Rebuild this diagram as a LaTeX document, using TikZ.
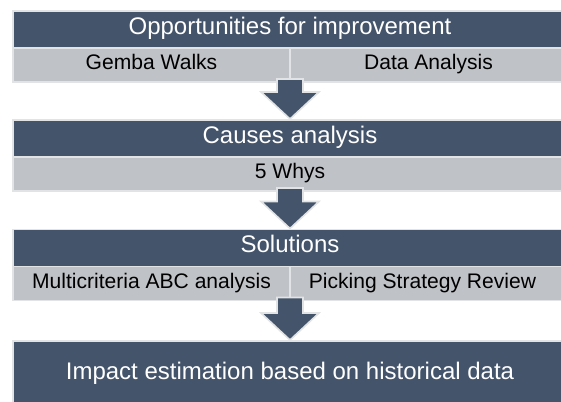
\documentclass[tikz,border=0pt]{standalone}
\usepackage{fontspec}
\setmainfont{Liberation Sans}
\usetikzlibrary{calc, positioning}

\definecolor{slate}{HTML}{44546A}
\definecolor{bar}{HTML}{BFC2C6}
\definecolor{edge}{HTML}{E2E3E5}

% block arrow from the bottom of one stage down to the next heading
\newcommand{\stagearrow}[2]{%
  \filldraw[fill=slate, draw=edge, line width=1.2pt, line join=miter]
    ($(#1)+(-13,-3)$) -- ($(#1)+(13,-3)$)
    -- ($(#2.north)+(13,-28)$) -- ($(#2.north)+(29,-28)$)
    -- ($(#2.north)+(0,-1)$)
    -- ($(#2.north)+(-29,-28)$) -- ($(#2.north)+(-13,-28)$) -- cycle;
}

\begin{document}
\begin{tikzpicture}[x=0.75pt, y=-0.75pt,
head/.style  = {fill=slate, draw=edge, line width=1pt, text=white,
                minimum width=415.5pt, minimum height=27.75pt,
                inner sep=0pt, outer sep=0pt,
                text height=0.716em, text depth=0pt,
                font=\fontsize{18}{21.6}\selectfont},
cell/.style  = {fill=bar, draw=edge, line width=1pt, text=black,
                minimum width=207.75pt, minimum height=25.5pt,
                inner sep=0pt, outer sep=0pt,
                text height=0.716em, text depth=0pt,
                font=\fontsize{15.8}{19}\selectfont},
wide/.style  = {cell, minimum width=415.5pt}
                    ]
  \useasboundingbox (0,0) rectangle (561,401);
  \clip (0,0) rectangle (561,401);

  % stage 1
  \node[head] (h1) at (290,29.5) {Opportunities for improvement};
  \node[cell, anchor=north west] (g1a) at (h1.south west) {Gemba Walks};
  \node[cell, right=0pt of g1a] (g1b) {Data Analysis};

  % stage 2
  \node[head] (h2) at (290,138.5) {Causes analysis};
  \node[wide, below=0pt of h2] (g2) {5 Whys};

  % stage 3
  \node[head] (h3) at (290,248) {Solutions};
  \node[cell, anchor=north west] (g3a) at (h3.south west) {Multicriteria ABC analysis};
  \node[cell, right=0pt of g3a] (g3b) {Picking Strategy Review\hspace*{9pt}};

  % stage 4
  \node[head, minimum height=51pt] (h4) at (290,375)
       {Impact estimation based on historical data};

  % arrows between stages
  \stagearrow{g1a.south east}{h2}
  \stagearrow{g2.south}{h3}
  \stagearrow{g3a.south east}{h4}
\end{tikzpicture}
\end{document}
